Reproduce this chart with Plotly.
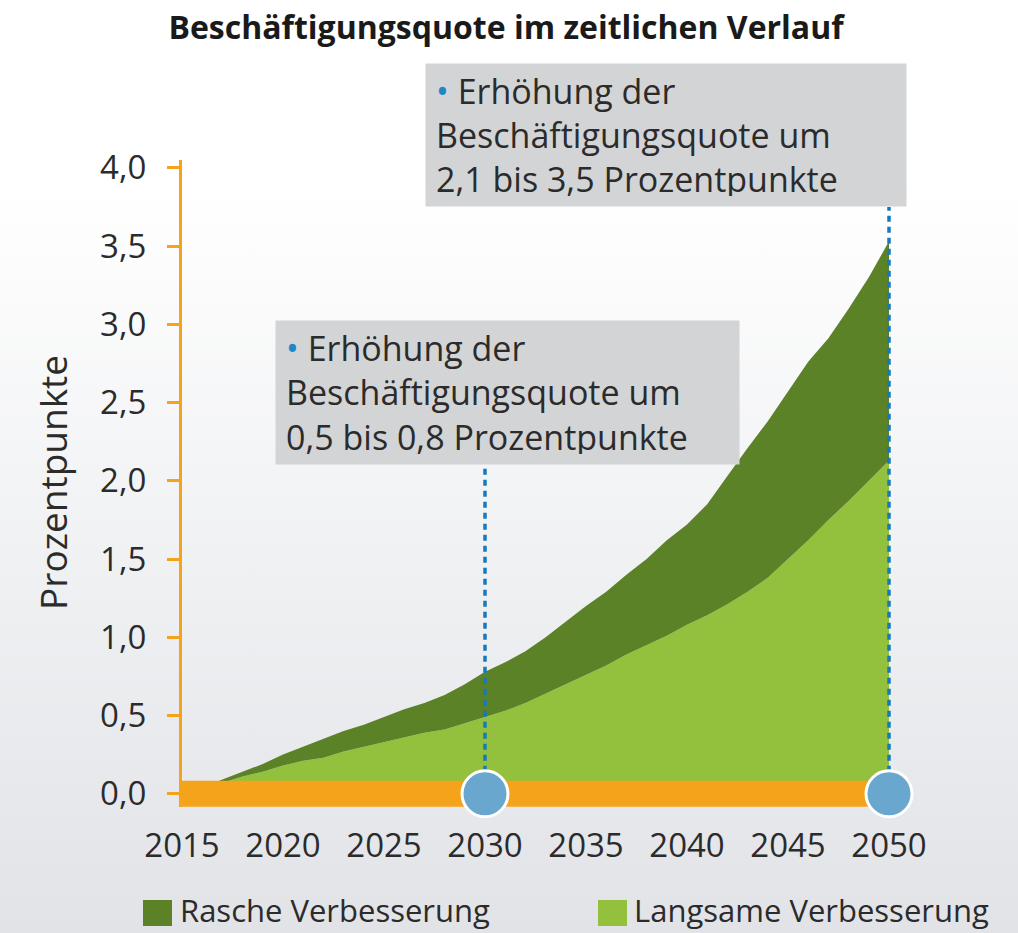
import base64
import plotly.graph_objects as go

# ---------------- data ----------------
years = list(range(2015, 2051))
rasche = [0.00, 0.04, 0.09, 0.14, 0.19, 0.25, 0.30, 0.35, 0.40, 0.44, 0.49, 0.54,
          0.58, 0.63, 0.70, 0.78, 0.84, 0.91, 1.00, 1.10, 1.20, 1.29, 1.40, 1.50,
          1.62, 1.72, 1.85, 2.03, 2.21, 2.38, 2.57, 2.76, 2.91, 3.10, 3.30, 3.53]
langsame = [0.00, 0.03, 0.07, 0.11, 0.14, 0.18, 0.21, 0.23, 0.27, 0.30, 0.33, 0.36,
            0.39, 0.41, 0.45, 0.49, 0.53, 0.58, 0.64, 0.70, 0.76, 0.82, 0.89, 0.95,
            1.01, 1.08, 1.14, 1.21, 1.29, 1.38, 1.50, 1.62, 1.75, 1.87, 2.00, 2.13]
series_names = ["Rasche Verbesserung", "Langsame Verbesserung"]
milestone_years = [2030, 2050]
milestone_tops = [2.1, 3.75]
x_ticks = [2015, 2020, 2025, 2030, 2035, 2040, 2045, 2050]
y_ticks = [0.0, 0.5, 1.0, 1.5, 2.0, 2.5, 3.0, 3.5, 4.0]
title_text = "Beschäftigungsquote im zeitlichen Verlauf"
y_title = "Prozentpunkte"
box_texts = [
    "Erhöhung der<br>Beschäftigungsquote um<br>0,5 bis 0,8 Prozentpunkte",
    "Erhöhung der<br>Beschäftigungsquote um<br>2,1 bis 3,5 Prozentpunkte",
]

# ---------------- style ----------------
W, H = 1018, 933
L, R, T, B = 182, 100, 160, 126
PW, PH = W - L - R, H - T - B
DARK = "#5c8227"
LIGHT = "#93c13d"
ORANGE = "#f6a31c"
BLUE_C = "#69a7cf"
BLUE_D = "#1679bd"
BOX = "#d3d4d6"
TXT = "#2b2b2b"
FONT = "Open Sans"

def px(xp):
    return (xp - L) / PW

def py(yp):
    return (H - B - yp) / PH

fig = go.Figure()

fig.add_trace(go.Scatter(x=years, y=langsame, mode="lines", line=dict(width=0, color=LIGHT),
                         fill="tozeroy", fillcolor=LIGHT, name=series_names[1], showlegend=False))
fig.add_trace(go.Scatter(x=years, y=rasche, mode="lines", line=dict(width=0, color=DARK),
                         fill="tonexty", fillcolor=DARK, name=series_names[0], showlegend=False))

# orange base bar along the x axis
fig.add_trace(go.Scatter(x=[x_ticks[0], x_ticks[-1]], y=[0, 0], mode="lines",
                         line=dict(color=ORANGE, width=26), showlegend=False, hoverinfo="skip"))

# dotted connectors
for yr, top in zip(milestone_years, milestone_tops):
    fig.add_trace(go.Scatter(x=[yr, yr], y=[0, top], mode="lines",
                             line=dict(color=BLUE_D, width=3.5, dash="6px,5px"),
                             showlegend=False, hoverinfo="skip", cliponaxis=False))

# milestone circles
fig.add_trace(go.Scatter(x=milestone_years, y=[0] * len(milestone_years), mode="markers",
                         marker=dict(size=46, color=BLUE_C, line=dict(color="white", width=3)),
                         showlegend=False, cliponaxis=False, hoverinfo="skip"))

# background gradient
svg = ('<svg xmlns="http://www.w3.org/2000/svg" width="%d" height="%d" viewBox="0 0 %d %d" '
       'preserveAspectRatio="none"><defs><linearGradient id="g" x1="0" y1="0" x2="0" y2="1">'
       '<stop offset="0" stop-color="#ffffff"/><stop offset="0.2" stop-color="#ffffff"/>'
       '<stop offset="1" stop-color="#e1e3e7"/></linearGradient></defs>'
       '<rect width="%d" height="%d" fill="url(#g)"/></svg>') % (W, H, W, H, W, H)
src = "data:image/svg+xml;base64," + base64.b64encode(svg.encode()).decode()

bullet = "<span style='color:#1f86c8'>•</span> "
boxes = [  # (left, top, right, bottom) in pixels
    (275, 322, 738, 465),
    (425, 65, 905, 207),
]
annotations = []
for (x0, y0, x1, y1), txt in zip(boxes, box_texts):
    pad = 10
    annotations.append(dict(
        xref="paper", yref="paper", x=px(x0), y=py(y1), xanchor="left", yanchor="bottom",
        text=bullet + txt, showarrow=False, align="left", valign="middle",
        width=(x1 - x0) - 2 * pad, height=(y1 - y0) - 2 * pad, borderpad=pad,
        bgcolor=BOX, font=dict(family=FONT, size=34, color=TXT)))

annotations.append(dict(xref="paper", yref="paper", x=px(52), y=py(483), text=y_title,
                        textangle=-90, showarrow=False, xanchor="center", yanchor="middle",
                        font=dict(family=FONT, size=37, color=TXT)))

# legend (manual)
shapes = []
leg = [(143, 172, 178, DARK, series_names[0]), (598, 627, 632, LIGHT, series_names[1])]
for sx0, sx1, tx, col, name in leg:
    shapes.append(dict(type="rect", xref="paper", yref="paper", x0=px(sx0), x1=px(sx1),
                       y0=py(926), y1=py(900), fillcolor=col, line=dict(width=0)))
    annotations.append(dict(xref="paper", yref="paper", x=px(tx), y=py(910), text=name,
                            showarrow=False, xanchor="left", yanchor="middle",
                            font=dict(family=FONT, size=31, color=TXT)))

fig.update_layout(
    width=W, height=H,
    margin=dict(l=L, r=R, t=T, b=B, autoexpand=False),
    paper_bgcolor="white", plot_bgcolor="rgba(0,0,0,0)",
    separators=",.",
    title=dict(text="<b>" + title_text + "</b>", x=506 / W, xref="container", xanchor="center",
               y=1 - 28 / H, yref="container", yanchor="middle",
               font=dict(family=FONT, size=32, color="#1a1a1a")),
    images=[dict(source=src, xref="paper", yref="paper", x=-L / PW, y=1 + T / PH,
                 sizex=W / PW, sizey=H / PH, xanchor="left", yanchor="top",
                 sizing="stretch", layer="below")],
    shapes=shapes,
    annotations=annotations,
    showlegend=False,
    xaxis=dict(range=[2015, 2015 + PW / 20.2], tickvals=x_ticks, showgrid=False, zeroline=False,
               showline=False, ticks="", ticklabelstandoff=16,
               tickfont=dict(family=FONT, size=33, color=TXT)),
    yaxis=dict(range=[-0.085, 4.05], tickvals=y_ticks, tickformat=".1f", showgrid=False,
               zeroline=False, showline=True, linecolor=ORANGE, linewidth=3,
               ticks="outside", ticklen=12, tickwidth=3, tickcolor=ORANGE,
               ticklabelstandoff=14,
               tickfont=dict(family=FONT, size=33, color=TXT)),
)

fig.write_html("out.html", config={"displayModeBar": False},
               post_script="document.body.style.margin='0';document.body.style.padding='0';"
                           "document.body.style.overflow='hidden';")
